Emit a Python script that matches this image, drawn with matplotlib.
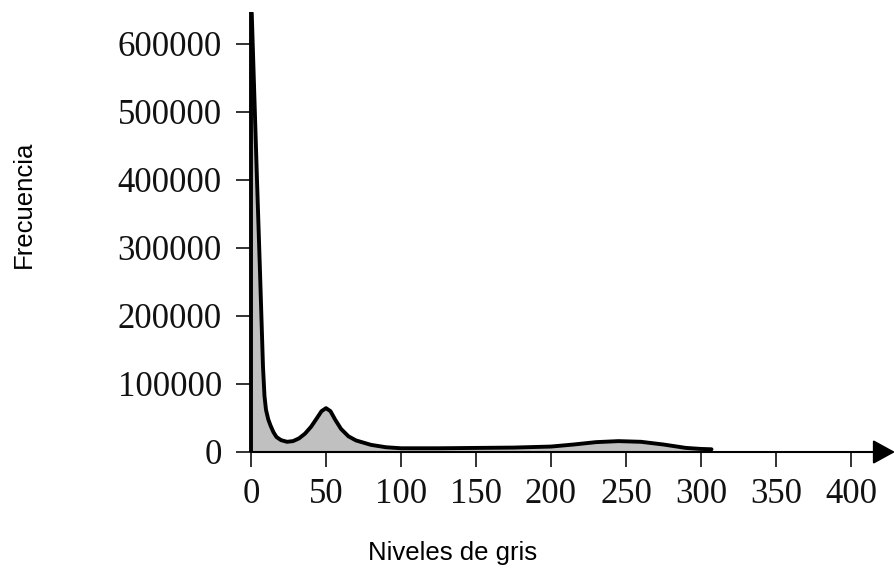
import matplotlib
matplotlib.use("Agg")
import matplotlib.pyplot as plt

# Data
gray_levels = [0, 0.5, 2, 4, 6, 8, 9, 10, 11.5, 13, 15, 17, 20, 24, 28, 32, 36,
               40, 44, 47, 50, 53, 56, 60, 65, 70, 80, 90, 100, 125, 150, 175,
               200, 215, 230, 245, 260, 275, 290, 300, 307]
frequency = [650000, 645000, 540000, 400000, 265000, 125000, 82000, 62000, 48000,
             39000, 29000, 22000, 17500, 15000, 16000, 20000, 27000, 37000,
             50000, 60000, 64500, 60000, 48000, 34000, 23000, 17000, 10500,
             7000, 5500, 5500, 6000, 6500, 8000, 11000, 14500, 16000, 15000,
             11000, 6000, 4500, 4000]
x_ticks = [0, 50, 100, 150, 200, 250, 300, 350, 400]
y_ticks = [0, 100000, 200000, 300000, 400000, 500000, 600000]
x_label = "Niveles de gris"
y_label = "Frecuencia"

W, H = 895, 573
fig = plt.figure(figsize=(W / 100, H / 100), dpi=100)
x0, x1, y0, y1 = 251, 895, 452, 12
ax = fig.add_axes([x0 / W, (H - y0) / H, (x1 - x0) / W, (y0 - y1) / H])
ax.set_xlim(0, (x1 - x0) / 1.5)
ax.set_ylim(0, (y0 - y1) / 68 * 100000)

for s in ax.spines.values():
    s.set_visible(False)

ax.fill_between(gray_levels, frequency, 0, color="#c0c0c0", lw=0, zorder=1)
ax.plot(gray_levels, frequency, color="black", lw=2.8, solid_capstyle="round",
        solid_joinstyle="round", zorder=3)

# axes lines
xmax = ax.get_xlim()[1]
ax.annotate("", xy=(xmax, 0), xytext=(0, 0),
            arrowprops=dict(arrowstyle="-|>,head_length=0.62,head_width=0.34",
                            lw=1.5, color="black", shrinkA=0, shrinkB=0,
                            mutation_scale=22),
            annotation_clip=False, zorder=2)
ax.plot([0, 0], [0, ax.get_ylim()[1]], color="black", lw=2.8, clip_on=False,
        zorder=4, solid_capstyle="butt")

ax.set_xticks(x_ticks)
ax.set_yticks(y_ticks)
ax.set_xticklabels([str(v) for v in x_ticks])
ax.set_yticklabels([str(v) for v in y_ticks])
ax.tick_params(axis="both", direction="out", length=11, width=1.3,
               labelsize=25, color="#222222")
ax.tick_params(axis="y", pad=10)
ax.tick_params(axis="x", pad=8)
for lab in ax.get_xticklabels() + ax.get_yticklabels():
    lab.set_family("Liberation Serif")
    lab.set_color("#111111")

fig.text(453 / W, 1 - 553 / H, x_label, ha="center", va="center",
         family="Liberation Sans", fontsize=18.5)
fig.text(24 / W, 1 - 204 / H, y_label, ha="center", va="center", rotation=90,
         family="Liberation Sans", fontsize=18.5)

fig.savefig("out.png", dpi=100)
